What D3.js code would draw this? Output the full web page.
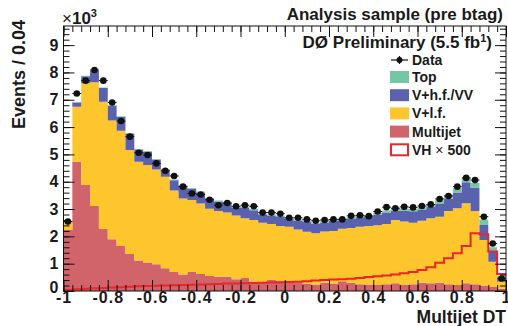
<!DOCTYPE html>
<html>
<head>
<meta charset="utf-8">
<script src="https://cdn.jsdelivr.net/npm/d3@7"></script>
<style>
  body { margin: 0; background: #fff; }
  svg text { font-family: "Liberation Sans", Arial, Helvetica, sans-serif; font-weight: bold; fill: #1a1a1a; }
</style>
</head>
<body>
<svg id="chart" width="508" height="326"></svg>
<script>
// bins of Multijet DT, width 0.04 from -1 to 1 (values in units of 10^3 events)
const binLow = d3.range(50).map(i => -1 + i * 0.04);

const multijet = [2.23,4.73,3.88,3.11,2.27,1.89,1.65,1.35,1.12,1.04,
                  0.98,0.83,0.70,0.60,0.70,0.62,0.55,0.52,0.52,0.43,
                  0.48,0.35,0.32,0.40,0.36,0.32,0.30,0.26,0.24,0.30,
                  0.27,0.36,0.30,0.25,0.24,0.22,0.25,0.28,0.22,0.25,
                  0.30,0.28,0.30,0.25,0.22,0.28,0.25,0.20,0.15,0.08];
const vlf = [0.30,2.01,3.72,4.53,4.66,4.35,4.22,3.81,3.61,3.57,
             3.47,3.35,2.98,2.79,2.63,2.58,2.46,2.41,2.35,2.33,
             2.18,2.25,2.18,2.05,2.02,2.03,1.95,1.91,1.87,1.88,
             1.93,1.92,2.01,2.10,2.14,2.19,2.20,2.32,2.32,2.25,
             2.27,2.38,2.42,2.68,2.81,2.93,2.68,1.67,0.92,0.26];
const vhf = [0.02,0.16,0.26,0.42,0.50,0.54,0.51,0.60,0.45,0.49,
             0.36,0.26,0.37,0.46,0.41,0.41,0.36,0.35,0.37,0.30,
             0.39,0.36,0.30,0.31,0.33,0.29,0.33,0.37,0.35,0.33,
             0.36,0.31,0.33,0.35,0.34,0.39,0.42,0.34,0.40,0.42,
             0.41,0.42,0.48,0.45,0.58,0.77,0.85,0.55,0.41,0.12];
const topQuark = [0.01,0.02,0.02,0.02,0.02,0.02,0.02,0.02,0.02,0.02,
                  0.02,0.03,0.03,0.03,0.03,0.03,0.03,0.03,0.03,0.03,
                  0.03,0.04,0.04,0.04,0.04,0.04,0.04,0.04,0.04,0.04,
                  0.04,0.06,0.06,0.06,0.06,0.06,0.08,0.08,0.08,0.08,
                  0.08,0.10,0.12,0.14,0.15,0.16,0.17,0.20,0.12,0.10];
const vh500 = [0.04,0.06,0.08,0.10,0.11,0.13,0.14,0.16,0.17,0.18,
               0.19,0.20,0.21,0.22,0.23,0.24,0.25,0.26,0.27,0.27,
               0.28,0.29,0.30,0.31,0.32,0.33,0.34,0.36,0.38,0.40,
               0.42,0.43,0.45,0.48,0.51,0.54,0.57,0.60,0.65,0.70,
               0.77,0.87,1.03,1.20,1.38,1.65,2.11,2.08,1.45,0.62];
const data = [2.54,7.23,7.70,8.09,7.70,6.90,6.22,5.65,5.06,4.98,
              4.67,4.40,4.21,3.82,3.57,3.53,3.34,3.14,3.22,3.10,
              3.14,3.10,2.87,2.87,2.83,2.68,2.68,2.62,2.57,2.60,
              2.62,2.62,2.75,2.77,2.74,2.91,3.07,3.03,3.08,3.06,
              3.11,3.17,3.37,3.48,3.82,4.14,4.06,2.72,1.74,0.46];

const xTicks = [-1,-0.8,-0.6,-0.4,-0.2,0,0.2,0.4,0.6,0.8,1];
const xLabels = ["-1","-0.8","-0.6","-0.4","-0.2","0","0.2","0.4","0.6","0.8","1"];
const yTicks = [0,1,2,3,4,5,6,7,8,9];

const legendItems = [
  {key: "topQuark", label: "Top"},
  {key: "vhf", label: "V+h.f./VV"},
  {key: "vlf", label: "V+l.f."},
  {key: "multijet", label: "Multijet"}
];
const colors = {topQuark: "#74c6a5", vhf: "#5a61ae", vlf: "#fdc62c", multijet: "#d1636a"};
const vhColor = "#e8262b";

const svg = d3.select("#chart");
const x = d3.scaleLinear().domain([-1, 1]).range([63.5, 506]);
const y = d3.scaleLinear().domain([0, 9.7]).range([291, 26]);
const bw = 0.04;

// stacked histogram
const rows = binLow.map((lo, i) => ({lo, multijet: multijet[i], vlf: vlf[i], vhf: vhf[i], topQuark: topQuark[i]}));
const keys = ["multijet", "vlf", "vhf", "topQuark"];
const stacked = d3.stack().keys(keys)(rows);

const area = d3.area()
  .curve(d3.curveStepAfter)
  .x(d => x(d.lo))
  .y0(d => y(d.y0))
  .y1(d => y(d.y1));

stacked.forEach(s => {
  const pts = s.map(d => ({lo: d.data.lo, y0: d[0], y1: d[1]}));
  const last = pts[pts.length - 1];
  pts.push({lo: 1, y0: last.y0, y1: last.y1});
  svg.append("path").attr("d", area(pts)).attr("fill", colors[s.key]);
});

// VH x 500 outline
const vhPts = binLow.map((lo, i) => ({lo, v: vh500[i]}));
vhPts.push({lo: 1, v: vh500[vh500.length - 1]});
svg.append("path")
  .attr("d", d3.line().curve(d3.curveStepAfter).x(d => x(d.lo)).y(d => y(d.v))(vhPts))
  .attr("fill", "none").attr("stroke", vhColor).attr("stroke-width", 2);

// data points
const dots = svg.append("g");
binLow.forEach((lo, i) => {
  dots.append("line")
    .attr("x1", x(lo)).attr("x2", x(lo + bw))
    .attr("y1", y(data[i])).attr("y2", y(data[i]))
    .attr("stroke", "#111").attr("stroke-width", 1);
  dots.append("circle")
    .attr("cx", x(lo + bw / 2)).attr("cy", y(data[i]))
    .attr("r", 3.3).attr("fill", "#111");
});

// axes (ticks pointing inward, ROOT style)
const xMinor = d3.range(51).map(i => -1 + i * 0.04);
const yMinor = d3.range(49).map(i => i * 0.2);

function styleAxis(g) {
  g.select(".domain").remove();
  g.selectAll("line").attr("stroke", "#111");
}

svg.append("g").attr("transform", "translate(0,291)")
  .call(d3.axisBottom(x).tickValues(xMinor).tickSize(-6).tickFormat(""))
  .call(styleAxis);
svg.append("g").attr("transform", "translate(0,291)")
  .call(d3.axisBottom(x).tickValues(xTicks).tickSize(-11).tickPadding(1)
        .tickFormat((d, i) => xLabels[i]))
  .call(styleAxis)
  .selectAll("text").style("font-size", "16px").style("letter-spacing", "1px");

svg.append("g").attr("transform", "translate(0,26)")
  .call(d3.axisTop(x).tickValues(xMinor).tickSize(-6).tickFormat(""))
  .call(styleAxis);
svg.append("g").attr("transform", "translate(0,26)")
  .call(d3.axisTop(x).tickValues(xTicks).tickSize(-11).tickFormat(""))
  .call(styleAxis);

svg.append("g").attr("transform", "translate(63.5,0)")
  .call(d3.axisLeft(y).tickValues(yMinor).tickSize(-6).tickFormat(""))
  .call(styleAxis);
svg.append("g").attr("transform", "translate(63.5,0)")
  .call(d3.axisLeft(y).tickValues(yTicks).tickSize(-11).tickPadding(5))
  .call(styleAxis)
  .call(g => g.selectAll("text").filter(d => d === 0).attr("dy", "0.1em"))
  .selectAll("text").style("font-size", "16px");

svg.append("g").attr("transform", "translate(506,0)")
  .call(d3.axisRight(y).tickValues(yMinor).tickSize(-6).tickFormat(""))
  .call(styleAxis);
svg.append("g").attr("transform", "translate(506,0)")
  .call(d3.axisRight(y).tickValues(yTicks).tickSize(-11).tickFormat(""))
  .call(styleAxis);

// frame
svg.append("rect")
  .attr("x", 63.5).attr("y", 26).attr("width", 506 - 63.5).attr("height", 265)
  .attr("fill", "none").attr("stroke", "#111").attr("stroke-width", 1);

// titles
svg.append("text").attr("x", 503).attr("y", 20).attr("text-anchor", "end")
  .style("font-size", "17px").text("Analysis sample (pre btag)");

const pre = svg.append("text").attr("x", 492).attr("y", 48).attr("text-anchor", "end")
  .style("font-size", "17px");
pre.append("tspan").text("DØ Preliminary (5.5 fb");
pre.append("tspan").attr("dy", -6).style("font-size", "11px").text("1");
pre.append("tspan").attr("dy", 6).text(")");

svg.append("text").attr("transform", "translate(25,20) rotate(-90)")
  .attr("text-anchor", "end").style("font-size", "18px").text("Events / 0.04");

svg.append("text").attr("x", 506).attr("y", 322.5).attr("text-anchor", "end")
  .style("font-size", "17.5px").text("Multijet DT");

const mult = svg.append("text").attr("x", 62).attr("y", 24).style("font-size", "17px");
mult.append("tspan").style("font-weight", "normal").text("×");
mult.append("tspan").text("10");
mult.append("tspan").attr("dy", -7).style("font-size", "11px").text("3");

// legend
const lg = svg.append("g");
lg.append("line").attr("x1", 391).attr("x2", 408).attr("y1", 60).attr("y2", 60)
  .attr("stroke", "#111").attr("stroke-width", 1.2);
lg.append("line").attr("x1", 399.5).attr("x2", 399.5).attr("y1", 56).attr("y2", 64)
  .attr("stroke", "#111").attr("stroke-width", 1.2);
lg.append("circle").attr("cx", 399.5).attr("cy", 60).attr("r", 3).attr("fill", "#111");
lg.append("text").attr("x", 412).attr("y", 65).style("font-size", "14px").text("Data");

legendItems.forEach((it, i) => {
  const cy = 77 + i * 18.2;
  lg.append("rect").attr("x", 390).attr("y", cy - 6).attr("width", 19).attr("height", 12)
    .attr("fill", colors[it.key]);
  lg.append("text").attr("x", 412).attr("y", cy + 5).style("font-size", "14px").text(it.label);
});
{
  const cy = 77 + 4 * 18.2;
  lg.append("rect").attr("x", 391).attr("y", cy - 5.5).attr("width", 17).attr("height", 11)
    .attr("fill", "#fff").attr("stroke", vhColor).attr("stroke-width", 2);
  const t = lg.append("text").attr("x", 412).attr("y", cy + 5).style("font-size", "14px");
  t.append("tspan").text("VH ");
  t.append("tspan").style("font-weight", "normal").text("×");
  t.append("tspan").text(" 500");
}
</script>
</body>
</html>
